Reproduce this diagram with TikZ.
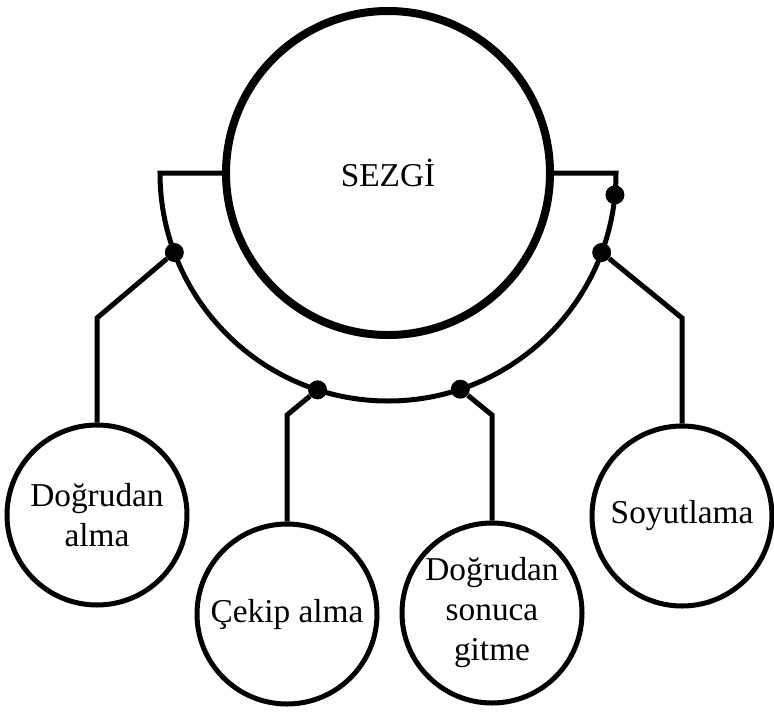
\documentclass[tikz,border=0pt]{standalone}
\usepackage{fontspec}
\setmainfont{Liberation Serif}
\usetikzlibrary{calc}
\tikzset{>=latex}
\tikzset{edge/.style = {line width=3.75pt, line join=miter}}

\begin{document}
\begin{tikzpicture}[x=0.75pt, y=-0.75pt,
    big/.style = {circle, draw, line width=6pt, minimum size=243pt, inner sep=0pt, font=\fontsize{25}{30}\selectfont},
    small/.style = {circle, draw, line width=3.75pt, minimum size=135pt, inner sep=0pt, align=center, font=\fontsize{25}{30}\selectfont},
    dot/.style = {circle, fill=black, inner sep=0pt, minimum size=14.25pt}]
    \useasboundingbox (0,0) rectangle (774,711);

    % Main circle and centre of the arc
    \node[big] (sezgi) at (388,173) {SEZGİ};
    \coordinate (o) at (388,173);

    % The four small circles
    \node[small] (dalma) at (97,515) {Doğrudan\\alma};
    \node[small] (cekip) at (287,614) {Çekip alma};
    \node[small] (dsonuc) at (492,613) {Doğrudan\\sonuca\\gitme};
    \node[small] (soyut) at (682,516) {Soyutlama};

    % Half ring under the main circle
    \draw[edge] (sezgi.west) -- (160,173) arc[start angle=180, end angle=0, radius=228] -- (sezgi.east);

    % Dots on the ring
    \node[dot] (d1) at ($(o)+(159.6:228)$) {};
    \node[dot] (d2) at ($(o)+(108:228)$) {};
    \node[dot] (d3) at ($(o)+(71.5:228)$) {};
    \node[dot] (d4) at ($(o)+(20.4:228)$) {};
    \node[dot] (d5) at ($(o)+(5.5:228)$) {};

    % Bends of the connectors
    \coordinate (k1) at (dalma.north |- 0,318);
    \coordinate (k2) at (cekip.north |- 0,415);
    \coordinate (k3) at (dsonuc.north |- 0,415);
    \coordinate (k4) at (soyut.north |- 0,318);

    % Connectors from the ring to the circles
    \draw[edge] (d1) -- (k1) -- (dalma.north);
    \draw[edge] (d2) -- (k2) -- (cekip.north);
    \draw[edge] (d3) -- (k3) -- (dsonuc.north);
    \draw[edge] (d4) -- (k4) -- (soyut.north);
\end{tikzpicture}
\end{document}
